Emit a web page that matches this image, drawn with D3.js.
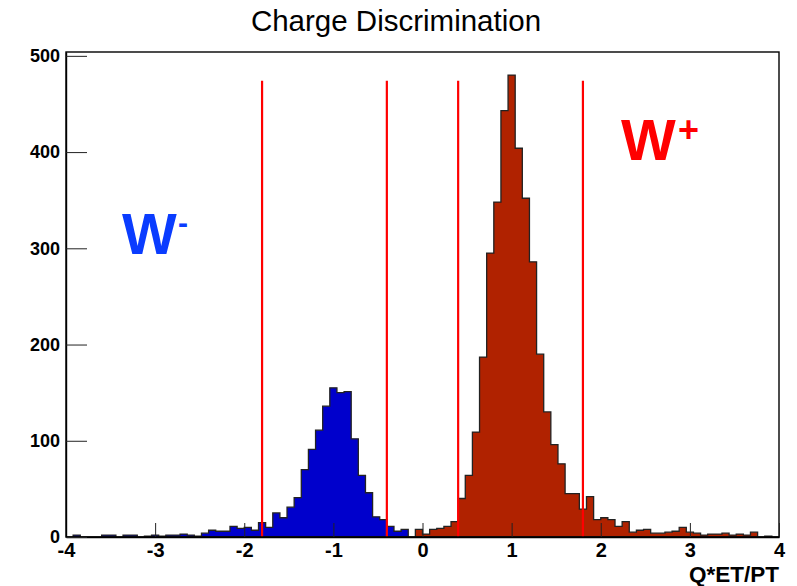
<!DOCTYPE html>
<html>
<head>
<meta charset="utf-8">
<script src="https://cdn.jsdelivr.net/npm/d3@7"></script>
<style>
  body { margin: 0; background: #fff; }
  svg text { font-family: "Liberation Sans", Arial, Helvetica, sans-serif; }
</style>
</head>
<body>
<svg id="chart" width="797" height="586"></svg>
<script>
// Histogram binning (0.08 wide bins)
const binWidth = 0.08;

// W- candidates: bins starting at -4.00
const wMinusStart = -4.0;
const wMinusCounts = [
  0, 2, 0, 0, 0, 2, 2, 0, 2, 2,
  0, 1, 2, 1, 2, 2, 3, 2, 1, 4,
  7, 6, 6, 11, 9, 10, 7, 15, 10, 25,
  20, 31, 41, 70, 91, 111, 136, 155, 150, 151,
  102, 64, 46, 21, 18, 11, 6, 8, 0, 0
];

// W+ candidates: bins starting at -0.08
const wPlusStart = -0.08;
const wPlusCounts = [
  8, 3, 8, 9, 11, 16, 40, 64, 109, 187,
  295, 348, 443, 480, 404, 352, 286, 190, 130, 96,
  76, 45, 45, 29, 42, 18, 20, 18, 11, 16,
  5, 7, 8, 4, 4, 5, 6, 10, 5, 4,
  2, 3, 3, 4, 2, 3, 2, 5, 0, 1,
  0
];

// Selection cuts on Q*ET/PT
const cutPositions = [-1.8, -0.4, 0.4, 1.8];
const cutTop = 474;

const xMajorTicks = [-4, -3, -2, -1, 0, 1, 2, 3, 4];
const yMajorTicks = [0, 100, 200, 300, 400, 500];
const yMax = 504;

const titleText = "Charge Discrimination";
const xAxisTitle = "Q*ET/PT";

const svg = d3.select("#chart");
const frame = { left: 66, right: 779, top: 52, bottom: 537 };

const x = d3.scaleLinear().domain([-4, 4]).range([frame.left, frame.right]);
const y = d3.scaleLinear().domain([0, yMax]).range([frame.bottom, frame.top]);

// Step outline of a histogram, closed along the baseline
function histPath(start, counts) {
  const p = d3.path();
  p.moveTo(x(start), y(0));
  counts.forEach((c, i) => {
    p.lineTo(x(start + i * binWidth), y(c));
    p.lineTo(x(start + (i + 1) * binWidth), y(c));
  });
  p.lineTo(x(start + counts.length * binWidth), y(0));
  p.closePath();
  return p.toString();
}

// W- histogram
svg.append("path")
  .attr("d", histPath(wMinusStart, wMinusCounts))
  .attr("fill", "#0000cc")
  .attr("stroke", "#222")
  .attr("stroke-width", 1.3);

// W+ histogram
svg.append("path")
  .attr("d", histPath(wPlusStart, wPlusCounts))
  .attr("fill", "#b02200")
  .attr("stroke", "#222")
  .attr("stroke-width", 1.3);

// Cut lines
svg.selectAll("line.cut")
  .data(cutPositions)
  .join("line")
  .attr("class", "cut")
  .attr("x1", d => x(d)).attr("x2", d => x(d))
  .attr("y1", y(0)).attr("y2", y(cutTop))
  .attr("stroke", "#ff0000")
  .attr("stroke-width", 2.2);

// Frame
svg.append("rect")
  .attr("x", frame.left).attr("y", frame.top)
  .attr("width", frame.right - frame.left)
  .attr("height", frame.bottom - frame.top)
  .attr("fill", "none")
  .attr("stroke", "#000")
  .attr("stroke-width", 1.4);

// X axis: major and minor ticks pointing into the frame
const xMinor = d3.range(0, 41).map(i => -4 + i * 0.2)
  .filter(v => Math.abs(v - Math.round(v)) > 1e-6);

const gx = svg.append("g").attr("transform", `translate(0,${frame.bottom})`);
gx.call(d3.axisBottom(x).tickValues(xMinor).tickFormat("").tickSizeInner(-7).tickSizeOuter(0));
gx.call(d3.axisBottom(x).tickValues(xMajorTicks).tickSizeInner(-14).tickSizeOuter(0).tickPadding(6));
gx.select(".domain").attr("stroke", "#000").attr("stroke-width", 1.4);
gx.selectAll(".tick line").attr("stroke", "#222");
gx.selectAll(".tick text")
  .attr("font-size", 20).attr("font-weight", "bold").attr("fill", "#000")
  .text(d => String(d));

// Y axis
const yMinor = d3.range(0, 501, 20).filter(v => v % 100 !== 0);
const gy = svg.append("g").attr("transform", `translate(${frame.left},0)`);
gy.call(d3.axisLeft(y).tickValues(yMinor).tickFormat("").tickSizeInner(-10).tickSizeOuter(0));
gy.call(d3.axisLeft(y).tickValues(yMajorTicks).tickSizeInner(-21).tickSizeOuter(0).tickPadding(6));
gy.select(".domain").attr("stroke", "#000").attr("stroke-width", 1.4);
gy.selectAll(".tick line").attr("stroke", "#222");
gy.selectAll(".tick text")
  .attr("font-size", 18).attr("font-weight", "bold").attr("fill", "#000");

// Axis title
svg.append("text")
  .attr("x", frame.right).attr("y", 582)
  .attr("text-anchor", "end")
  .attr("font-size", 22.5).attr("font-weight", "bold")
  .text(xAxisTitle);

// Title
svg.append("text")
  .attr("x", 396).attr("y", 31)
  .attr("text-anchor", "middle")
  .attr("font-size", 29.5)
  .text(titleText);

// Charge labels
const wm = svg.append("text")
  .attr("x", 122).attr("y", 254)
  .attr("font-size", 58).attr("font-weight", "bold")
  .attr("fill", "#0a3cff");
wm.append("tspan").text("W");
wm.append("tspan").attr("x", 178).attr("y", 233).attr("font-size", 30).text("-");

const wp = svg.append("text")
  .attr("x", 621).attr("y", 160)
  .attr("font-size", 58).attr("font-weight", "bold")
  .attr("fill", "#ff0000");
wp.append("tspan").text("W");
wp.append("tspan").attr("x", 678).attr("y", 142).attr("font-size", 36).text("+");
</script>
</body>
</html>
